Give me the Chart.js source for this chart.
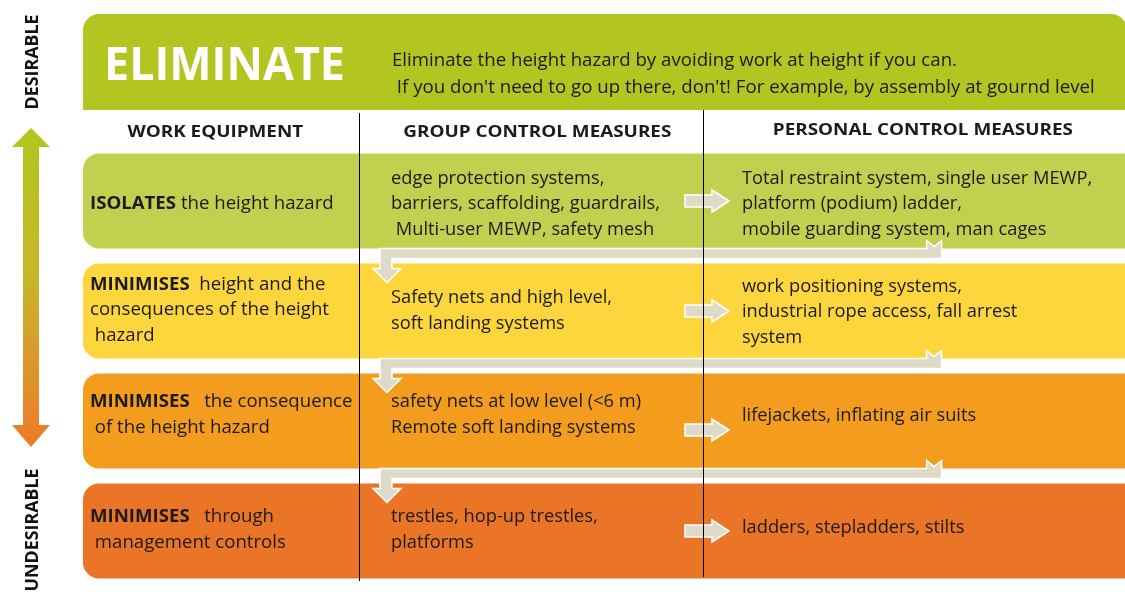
<!DOCTYPE html>
<html><head><meta charset="utf-8">
<script src="https://cdn.jsdelivr.net/npm/chart.js@4.4.1/dist/chart.umd.min.js"></script>
<style>html,body{margin:0;padding:0;background:#fff;overflow:hidden}#wrap{width:1125px;height:594px;position:relative}</style>
</head><body><div id="wrap"><canvas id="c"></canvas></div>
<script>
// ---------- content ----------
const title = 'ELIMINATE';
const titleDescription = [
  'Eliminate the height hazard by avoiding work at height if you can.',
  " If you don't need to go up there, don't! For example, by assembly at gournd level"
];
const columnHeaders = ['WORK EQUIPMENT', 'GROUP CONTROL MEASURES', 'PERSONAL CONTROL MEASURES'];
const levels = ['ISOLATES', 'MINIMISES', 'MINIMISES', 'MINIMISES'];
const levelText = [
  [' the height hazard'],
  ['  height and the', 'consequences of the height', ' hazard'],
  ['   the consequence', ' of the height hazard'],
  ['   through', ' management controls']
];
const groupMeasures = [
  ['edge protection systems,', 'barriers, scaffolding, guardrails,', ' Multi-user MEWP, safety mesh'],
  ['Safety nets and high level,', 'soft landing systems'],
  ['safety nets at low level (<6 m)', 'Remote soft landing systems'],
  ['trestles, hop-up trestles,', 'platforms']
];
const personalMeasures = [
  ['Total restraint system, single user MEWP,', 'platform (podium) ladder,', 'mobile guarding system, man cages'],
  ['work positioning systems,', 'industrial rope access, fall arrest', 'system'],
  ['lifejackets, inflating air suits'],
  ['ladders, stepladders, stilts']
];
const axisEnds = ['DESIRABLE', 'UNDESIRABLE'];
const bandSpan = [[0, 1], [0, 1], [0, 1], [0, 1]];

// ---------- style / layout ----------
const style = {
  bandColors: ['#c1d04f', '#fdd63e', '#f39c1d', '#eb7527'],
  titleColor: '#b2c520',
  ink: '#1b1b1b',
  arrowFill: '#dddbc7',
  dividers: [0.265, 0.595],
  textX: [0.0067, 0.2956, 0.6324],
  headerX: [0.127, 0.436, 0.806],
  lineGap: 25.5,
  // per row vertical shift of [left, group, personal, arrow]
  shifts: [[2, 2, 2, 0], [-2, -1, 0, 0], [-7, -7, -6, 9], [-2, -2, -4, 0]],
  connectorX: [0.824, 0.285]
};
const FONT = '"Open Sans", "DejaVu Sans", sans-serif';

function txt(ctx, s, x, y, font, sx, color, align) {
  ctx.save();
  ctx.font = font; ctx.fillStyle = color || style.ink; ctx.textBaseline = 'alphabetic';
  ctx.textAlign = align || 'left';
  ctx.translate(x, y); ctx.scale(sx, 1); ctx.fillText(s, 0, 0);
  ctx.restore();
}
function fit(ctx, font, s, w) { ctx.font = font; return w / ctx.measureText(s).width; }
function poly(ctx, pts, fill, stroke) {
  ctx.beginPath(); ctx.moveTo(pts[0][0], pts[0][1]);
  for (let i = 1; i < pts.length; i++) ctx.lineTo(pts[i][0], pts[i][1]);
  ctx.closePath(); ctx.fillStyle = fill; ctx.fill();
  if (stroke) { ctx.strokeStyle = stroke; ctx.lineWidth = 1.5; ctx.stroke(); }
}

const diagram = {
  id: 'diagram',
  beforeDatasetsDraw(chart) {
    const { ctx, chartArea: a, scales: { x } } = chart;
    const L = x.getPixelForValue(0), top = a.top - 132, bot = a.top - 36, R = chart.width + 2, r = 16;
    ctx.save();
    ctx.fillStyle = style.titleColor; ctx.beginPath();
    ctx.moveTo(L, bot); ctx.lineTo(L, top + r); ctx.arcTo(L, top, L + r, top, r);
    ctx.lineTo(R - r, top); ctx.arcTo(R, top, R, top + r, r); ctx.lineTo(R, bot); ctx.closePath(); ctx.fill();
    ctx.restore();
  },
  afterDatasetsDraw(chart) {
    const { ctx, chartArea: a, scales: { x } } = chart;
    const bars = chart.getDatasetMeta(0).data;
    const L = x.getPixelForValue(0);
    const fTitle = 'bold 46px ' + FONT, fDesc = '18px ' + FONT, fHead = 'bold 16px ' + FONT;
    const fLeft = '18px ' + FONT, fLeftB = 'bold 18px ' + FONT, fBody = '18px ' + FONT;
    const sTitle = fit(ctx, fTitle, title, 241);
    const sDesc = fit(ctx, fDesc, titleDescription[0], 565);
    const sHead = fit(ctx, fHead, columnHeaders[1], 268);
    const sLeft = fit(ctx, fLeft, levelText[1][1], 239);
    const sBody = fit(ctx, fBody, groupMeasures[0][1], 269);
    ctx.save();
    // title band text
    txt(ctx, title, L + 21, a.top - 66, fTitle, sTitle, '#ffffff');
    txt(ctx, titleDescription[0], L + 309, a.top - 80, fDesc, sDesc);
    txt(ctx, titleDescription[1], L + 309, a.top - 53, fDesc, sDesc);
    // headers
    const hy = [a.top - 9, a.top - 9, a.top - 11];
    columnHeaders.forEach((h, i) => txt(ctx, h, x.getPixelForValue(style.headerX[i]), hy[i], fHead, sHead, style.ink, 'center'));
    const d2 = x.getPixelForValue(style.dividers[1]);
    // rows
    bars.forEach((b, i) => {
      const cy = b.y, sh = style.shifts[i], g = style.lineGap;
      const lx = x.getPixelForValue(style.textX[0]);
      const lt = levelText[i], n = lt.length;
      lt.forEach((line, k) => {
        const y = cy + sh[0] + (k - (n - 1) / 2) * g + 6;
        if (k === 0) {
          ctx.font = fLeftB; const w = ctx.measureText(levels[i]).width * sLeft;
          txt(ctx, levels[i], lx, y, fLeftB, sLeft);
          txt(ctx, line, lx + w, y, fLeft, sLeft);
        } else txt(ctx, line, lx, y, fLeft, sLeft);
      });
      [groupMeasures[i], personalMeasures[i]].forEach((lines, c) => {
        const tx = x.getPixelForValue(style.textX[c + 1]), m = lines.length;
        lines.forEach((line, k) => txt(ctx, line, tx, cy + sh[c + 1] + (k - (m - 1) / 2) * g + 6, fBody, sBody));
      });
      // small right arrow
      const ay = cy + sh[3];
      poly(ctx, [[d2 - 18, ay - 6], [d2 + 9, ay - 6], [d2 + 9, ay - 11], [d2 + 26, ay], [d2 + 9, ay + 11], [d2 + 9, ay + 6], [d2 - 18, ay + 6]], style.arrowFill, '#ffffff');
      // bent connector to next row
      if (i < bars.length - 1) {
        const nb = bars[i + 1];
        const yT = b.y + b.height / 2, yB = nb.y - nb.height / 2;
        const xr = x.getPixelForValue(style.connectorX[0]), xl = x.getPixelForValue(style.connectorX[1]);
        const tTop = yT - 8, barB = yT + 10, hb = yB + 5, tip = yB + 19;
        poly(ctx, [[xr, tTop], [xr - 7.5, tTop + 6], [xr - 15, tTop], [xr - 15, yT], [xl, yT], [xl, hb], [xl - 7, hb], [xl + 7, tip],
          [xl + 21, hb], [xl + 12, hb], [xl + 12, barB], [xr, barB]], style.arrowFill, '#ffffff');
      }
    });
    // dividers
    ctx.strokeStyle = '#000'; ctx.lineWidth = 1;
    const d1 = x.getPixelForValue(style.dividers[0]);
    ctx.beginPath();
    ctx.moveTo(Math.round(d1) + 0.5, a.top - 33); ctx.lineTo(Math.round(d1) + 0.5, a.bottom - 5);
    ctx.moveTo(Math.round(d2) + 0.5, a.top - 36); ctx.lineTo(Math.round(d2) + 0.5, a.bottom - 9);
    ctx.stroke();
    // side desirability arrow
    const cx = 31, tipT = a.top - 18, baseT = a.top + 1, baseB = a.top + 279, tipB = a.top + 301;
    const grad = ctx.createLinearGradient(0, tipT, 0, tipB);
    grad.addColorStop(0, '#b0c61e'); grad.addColorStop(0.45, '#c6b82a'); grad.addColorStop(0.75, '#dd952c'); grad.addColorStop(1, '#ee7a27');
    poly(ctx, [[cx, tipT], [cx + 19, baseT], [cx + 8, baseT], [cx + 8, baseB], [cx + 19, baseB], [cx, tipB], [cx - 19, baseB], [cx - 8, baseB], [cx - 8, baseT], [cx - 19, baseT]], grad);
    const fSide = 'bold 18px ' + FONT;
    const sSide = fit(ctx, fSide, axisEnds[0], 95);
    ctx.save(); ctx.translate(cx + 7, a.top - 84); ctx.rotate(-Math.PI / 2);
    txt(ctx, axisEnds[0], 0, 0, fSide, sSide, '#111', 'center'); ctx.restore();
    ctx.save(); ctx.translate(cx + 7, a.top + 384); ctx.rotate(-Math.PI / 2);
    txt(ctx, axisEnds[1], 0, 0, fSide, sSide, '#111', 'center'); ctx.restore();
    ctx.restore();
  }
};

function build() {
  new Chart(document.getElementById('c'), {
    type: 'bar',
    data: {
      labels: levels,
      datasets: [{
        data: bandSpan,
        backgroundColor: style.bandColors,
        borderWidth: 0,
        borderSkipped: false,
        borderRadius: { topLeft: 16, bottomLeft: 16, topRight: 0, bottomRight: 0 },
        inflateAmount: 0,
        barPercentage: 0.864,
        categoryPercentage: 1
      }]
    },
    options: {
      indexAxis: 'y',
      responsive: true, maintainAspectRatio: false, animation: false, events: [],
      layout: { padding: { left: 83, right: 0, top: 146, bottom: 8 } },
      scales: {
        x: { type: 'linear', min: 0, max: 1, display: false },
        y: { type: 'category', display: false, offset: true }
      },
      plugins: { legend: { display: false }, tooltip: { enabled: false }, title: { display: false } }
    },
    plugins: [diagram]
  });
}
Promise.all([
  document.fonts.load('18px "Open Sans"'), document.fonts.load('bold 18px "Open Sans"')
]).then(build, build);
</script></body></html>
